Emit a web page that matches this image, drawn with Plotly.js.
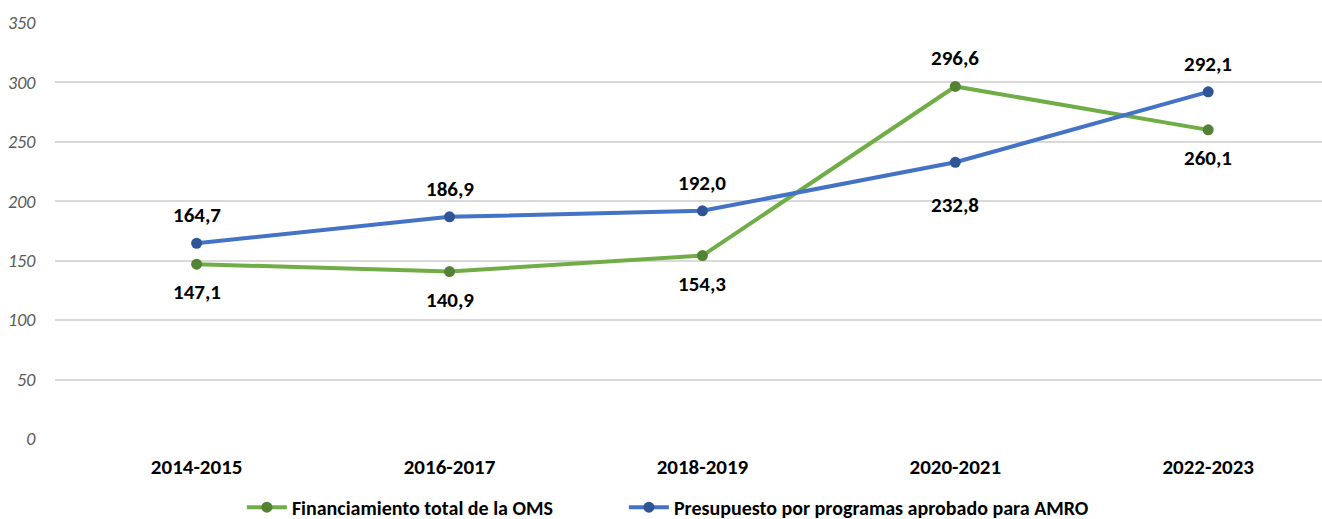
<!DOCTYPE html>
<html>
<head>
<meta charset="utf-8">
<script src="https://cdn.plot.ly/plotly-3.0.1.min.js"></script>
<style>
  html, body { margin: 0; padding: 0; background: #fff; }
  #chart { width: 1322px; height: 519px; }
</style>
</head>
<body>
<div id="chart"></div>
<script>
// bienios
let periodos = ["2014-2015", "2016-2017", "2018-2019", "2020-2021", "2022-2023"];

// millones de US$
let financiamientoOMS = [147.1, 140.9, 154.3, 296.6, 260.1];
let presupuestoAMRO = [164.7, 186.9, 192.0, 232.8, 292.1];

let yTicks = [0, 50, 100, 150, 200, 250, 300, 350];

let fmt = v => v.toFixed(1).replace(".", ",");

let FONT = "Carlito, Lato, sans-serif";

let oms = {
    x: periodos,
    y: financiamientoOMS,
    name: "Financiamiento total de la OMS",
    mode: "lines+markers",
    type: "scatter",
    line: {color: "#70AD47", width: 4},
    marker: {color: "#548235", size: 11},
    legend: "legend"
};

let amro = {
    x: periodos,
    y: presupuestoAMRO,
    name: "Presupuesto por programas aprobado para AMRO",
    mode: "lines+markers",
    type: "scatter",
    line: {color: "#4472C4", width: 4},
    marker: {color: "#2F5597", size: 11},
    legend: "legend2"
};

// etiquetas: la serie mas alta arriba, la otra abajo
let labelFont = {family: FONT, size: 21, color: "#000", weight: "bold"};
let annotations = [];
periodos.forEach((p, i) => {
    let a = financiamientoOMS[i], b = presupuestoAMRO[i];
    annotations.push({
        x: p, y: a, text: fmt(a), showarrow: false, font: labelFont,
        yshift: a > b ? 28 : -28
    });
    annotations.push({
        x: p, y: b, text: fmt(b), showarrow: false, font: labelFont,
        yshift: b > a ? 28 : (i === 3 ? -43 : -28)
    });
});

let legendFont = {family: FONT, size: 20, color: "#000", weight: "bold"};

let layout = {
    width: 1322,
    height: 519,
    margin: {l: 55, r: 0, t: 23, b: 80, autoexpand: false},
    paper_bgcolor: "#fff",
    plot_bgcolor: "#fff",
    showlegend: true,
    legend: {
        orientation: "h",
        x: 0.1475, xanchor: "left",
        y: -0.117, yanchor: "top",
        font: legendFont,
        itemwidth: 40
    },
    legend2: {
        orientation: "h",
        x: 0.449, xanchor: "left",
        y: -0.117, yanchor: "top",
        font: legendFont,
        itemwidth: 40
    },
    xaxis: {
        type: "category",
        range: [-0.56, 4.45],
        showgrid: false,
        zeroline: false,
        showline: false,
        ticks: "outside",
        ticklen: 9,
        tickcolor: "rgba(0,0,0,0)",
        tickfont: {family: FONT, size: 21, color: "#000", weight: "bold"}
    },
    yaxis: {
        range: [0, 350],
        tickvals: yTicks,
        showgrid: true,
        gridcolor: "#D9D9D9",
        gridwidth: 1.5,
        zeroline: false,
        showline: false,
        ticks: "outside",
        ticklen: 15,
        tickcolor: "rgba(0,0,0,0)",
        tickfont: {family: FONT, size: 18, color: "#595959", style: "italic"}
    },
    annotations: annotations
};

Plotly.newPlot("chart", [oms, amro], layout, {displayModeBar: false});
</script>
</body>
</html>
